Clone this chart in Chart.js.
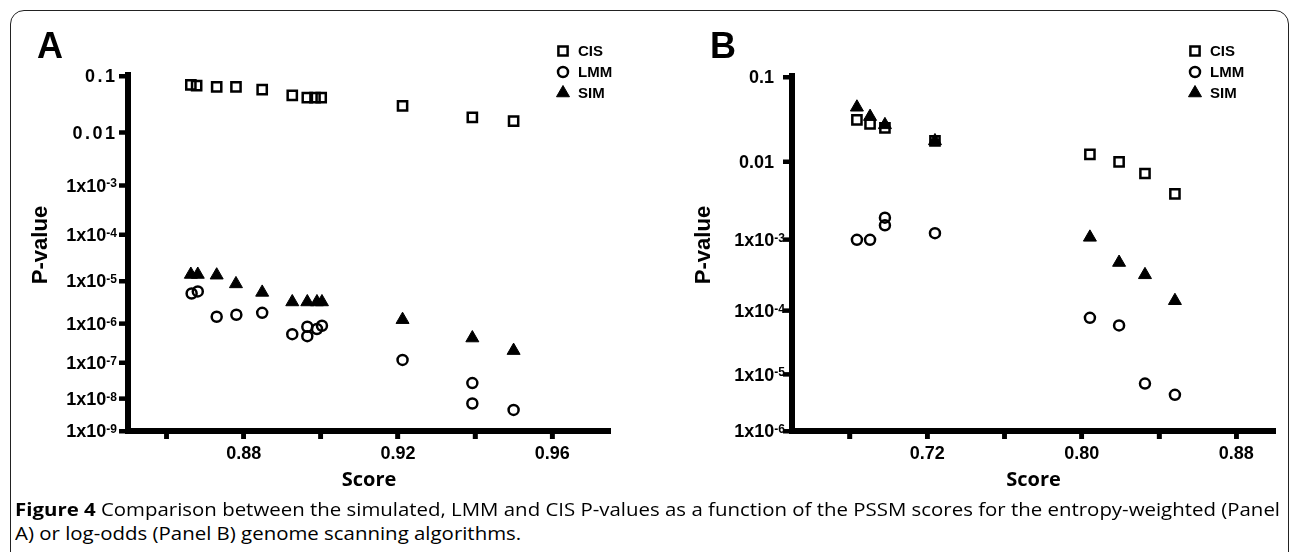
<!DOCTYPE html>
<html>
<head>
<meta charset="utf-8">
<script src="https://cdn.jsdelivr.net/npm/chart.js@4.4.1/dist/chart.umd.min.js"></script>
<style>
  html, body { margin: 0; padding: 0; background: #fff; }
  body { width: 1290px; height: 552px; position: relative; overflow: hidden; }
  .frame { position: absolute; left: 10px; top: 10px; width: 1277px; height: 600px;
           border: 1px solid #222; border-radius: 14px; }
  canvas { position: absolute; top: 0; }
  #chartA { left: 0; }
  #chartB { left: 650px; }
  .cap { position: absolute; left: 15px; font-family: "Open Sans", sans-serif; font-size: 18px;
         line-height: 18px; white-space: nowrap; color: #000; transform-origin: 0 0; }
</style>
</head>
<body>
<div class="frame"></div>
<canvas id="chartA" width="640" height="500"></canvas>
<canvas id="chartB" width="640" height="500"></canvas>
<div class="cap" id="cap1" style="top:500px"><b>Figure 4</b> Comparison between the simulated, LMM and CIS P-values as a function of the PSSM scores for the entropy-weighted (Panel</div>
<div class="cap" id="cap2" style="top:524px">A) or log-odds (Panel B) genome scanning algorithms.</div>
<script>
// ---- data, panel A (entropy-weighted) ----
const scoreA_cis = [0.8663, 0.8678, 0.873, 0.878, 0.8848, 0.8926, 0.8965, 0.8985, 0.9001, 0.9212, 0.9393, 0.950];
const pA_cis     = [0.070, 0.068, 0.065, 0.065, 0.058, 0.046, 0.042, 0.042, 0.042, 0.030, 0.0187, 0.016];
const scoreA_lmm = [0.8665, 0.8681, 0.873, 0.8781, 0.8848, 0.8926, 0.8965, 0.8965, 0.899, 0.9003, 0.9212, 0.9393, 0.9393, 0.950];
const pA_lmm     = [5.2e-6, 5.8e-6, 1.47e-6, 1.64e-6, 1.83e-6, 5.5e-7, 4.9e-7, 8.4e-7, 7.4e-7, 8.9e-7, 1.2e-7, 2.8e-8, 7.2e-9, 4.6e-9];
const scoreA_sim = [0.8663, 0.8681, 0.873, 0.878, 0.8848, 0.8926, 0.8965, 0.899, 0.9003, 0.9212, 0.9393, 0.950];
const pA_sim     = [1.4e-5, 1.4e-5, 1.35e-5, 8.6e-6, 5.5e-6, 3.3e-6, 3.3e-6, 3.3e-6, 3.3e-6, 1.25e-6, 4.4e-7, 2.1e-7];

// ---- data, panel B (log-odds) ----
const scoreB_cis = [0.6836, 0.6904, 0.6981, 0.724, 0.8042, 0.8193, 0.8327, 0.8482];
const pB_cis     = [0.032, 0.0288, 0.0258, 0.018, 0.0124, 0.010, 0.0072, 0.0040];
const scoreB_lmm = [0.6836, 0.6904, 0.6981, 0.6981, 0.724, 0.8042, 0.8193, 0.8327, 0.8482];
const pB_lmm     = [1.0e-3, 1.0e-3, 1.97e-3, 1.56e-3, 1.23e-3, 7.8e-5, 6.0e-5, 7.0e-6, 4.5e-6];
const scoreB_sim = [0.6836, 0.6904, 0.6981, 0.724, 0.8042, 0.8193, 0.8327, 0.8482];
const pB_sim     = [0.045, 0.035, 0.028, 0.018, 1.08e-3, 4.9e-4, 3.3e-4, 1.4e-4];

const seriesNames = ['CIS', 'LMM', 'SIM'];

// ---- axes ----
const xTicksA = [0.86, 0.88, 0.90, 0.92, 0.94, 0.96];
const xLabelsA = [0.88, 0.92, 0.96];
const yTicksA = [0.1, 0.01, 1e-3, 1e-4, 1e-5, 1e-6, 1e-7, 1e-8, 1e-9];
const yLabelsA = ['0.1', '0.01', '1x10^-3', '1x10^-4', '1x10^-5', '1x10^-6', '1x10^-7', '1x10^-8', '1x10^-9'];

const xTicksB = [0.68, 0.72, 0.76, 0.80, 0.84, 0.88];
const xLabelsB = [0.72, 0.80, 0.88];
const yTicksB = [0.1, 0.01, 1e-3, 1e-4, 1e-5, 1e-6];
const yLabelsB = ['0.1', '0.01', '1x10^-3', '1x10^-4', '1x10^-5', '1x10^-6'];

const ARIAL = '"Liberation Sans", Arial, sans-serif';

// log axis whose decades get a bit tighter towards the bottom, like the figure
// (quadratic warp of the log fraction: f = (1-c)t + c t^2)
const LogBase = Chart.LogarithmicScale || Chart.registry.getScale('logarithmic');
class WarpedLogScale extends LogBase {
  getPixelForValue(value) {
    const hi = Math.log10(this.max), lo = Math.log10(this.min);
    if (!(value > 0)) value = this.min;
    const c = this.options.warp || 0;
    const t = (hi - Math.log10(value)) / (hi - lo);
    const f = (1 - c) * t + c * t * t;
    return this.top + f * (this.bottom - this.top);
  }
  getValueForPixel(pixel) {
    const hi = Math.log10(this.max), lo = Math.log10(this.min);
    const c = this.options.warp || 0;
    const f = (pixel - this.top) / (this.bottom - this.top);
    const t = c === 0 ? f : (-(1 - c) + Math.sqrt((1 - c) * (1 - c) + 4 * c * f)) / (2 * c);
    return Math.pow(10, hi - t * (hi - lo));
  }
}
WarpedLogScale.id = 'warpedLog';
WarpedLogScale.defaults = LogBase.defaults;
Chart.register(WarpedLogScale);

function pts(xs, ys) {
  return xs.map((x, i) => ({ x: x, y: ys[i] }));
}

// heavy axis lines + tick stubs, panel letter, y tick labels, y title, legend
function decor(cfg) {
  return {
    id: 'decor',
    beforeDatasetsDraw(chart) {
      const ctx = chart.ctx;
      const ca = chart.chartArea;
      const xs = chart.scales.x, ys = chart.scales.y;
      ctx.save();
      ctx.strokeStyle = '#000';
      ctx.lineWidth = 4.5;
      ctx.beginPath();
      xs.ticks.forEach(t => {
        const px = xs.getPixelForValue(t.value);
        ctx.moveTo(px, ca.bottom);
        ctx.lineTo(px, ca.bottom + 8);
      });
      ctx.stroke();
      ctx.lineWidth = 4;
      ctx.beginPath();
      ys.ticks.forEach(t => {
        const py = ys.getPixelForValue(t.value);
        ctx.moveTo(ca.left, py);
        ctx.lineTo(ca.left - 9, py);
      });
      ctx.stroke();
      ctx.lineWidth = 6;
      ctx.beginPath();
      ctx.moveTo(ca.left, ca.top - 4);
      ctx.lineTo(ca.left, ca.bottom + 3);
      ctx.moveTo(ca.left - 3, ca.bottom);
      ctx.lineTo(ca.right, ca.bottom);
      ctx.stroke();
      ctx.restore();
    },
    afterDraw(chart) {
      const ctx = chart.ctx;
      const ys = chart.scales.y;
      const left = chart.chartArea.left;
      ctx.save();
      ctx.fillStyle = '#000';
      ctx.textAlign = 'left';
      ctx.textBaseline = 'alphabetic';

      ctx.font = 'bold 36px ' + ARIAL;
      ctx.fillText(cfg.letter, cfg.letterX, 58);

      ys.ticks.forEach(t => {
        const idx = cfg.yTicks.findIndex(v => Math.abs(Math.log10(v) - Math.log10(t.value)) < 1e-6);
        if (idx < 0) return;
        const lab = cfg.yLabels[idx];
        const py = ys.getPixelForValue(t.value);
        const parts = lab.split('^');
        if (parts.length === 1) {
          ctx.font = 'bold 18px ' + ARIAL;
          ctx.letterSpacing = cfg.plainSpacing + 'px';
          const w = ctx.measureText(lab).width;
          ctx.fillText(lab, left - cfg.plainGap - w + cfg.plainSpacing, py + 6.4);
          ctx.letterSpacing = '0px';
        } else {
          ctx.font = 'bold 12px ' + ARIAL;
          const ws = ctx.measureText(parts[1]).width;
          ctx.font = 'bold 18px ' + ARIAL;
          const wb = ctx.measureText(parts[0]).width;
          const right = left - cfg.supGap;
          ctx.fillText(parts[0], right - ws - wb, py + 6.4);
          ctx.font = 'bold 12px ' + ARIAL;
          ctx.fillText(parts[1], right - ws, py + 2);
        }
      });

      ctx.save();
      ctx.translate(cfg.yTitleX, cfg.yTitleY);
      ctx.rotate(-Math.PI / 2);
      ctx.font = 'bold 22px ' + ARIAL;
      ctx.textAlign = 'center';
      ctx.textBaseline = 'middle';
      ctx.fillText('P-value', 0, 0);
      ctx.restore();

      chart.data.datasets.forEach((ds, i) => {
        const y = cfg.legendY + i * 21;
        ctx.strokeStyle = ds.borderColor;
        ctx.fillStyle = ds.backgroundColor;
        ctx.lineWidth = ds.borderWidth;
        Chart.helpers.drawPoint(ctx, {
          pointStyle: ds.pointStyle, radius: ds.pointRadius,
          borderWidth: ds.borderWidth, rotation: 0
        }, cfg.legendX, y);
        ctx.fillStyle = '#000';
        ctx.font = 'bold 15px ' + ARIAL;
        ctx.textAlign = 'left';
        ctx.textBaseline = 'middle';
        ctx.fillText(ds.label, cfg.legendX + 15, y + 1);
      });
      ctx.restore();
    }
  };
}

function makePanel(id, cfg) {
  return new Chart(document.getElementById(id), {
    type: 'scatter',
    data: {
      datasets: [
        { label: seriesNames[0], data: pts(cfg.cisX, cfg.cisP), pointStyle: 'rect', pointRadius: 6.5,
          borderColor: '#000', borderWidth: 2.5, backgroundColor: 'rgba(0,0,0,0)' },
        { label: seriesNames[1], data: pts(cfg.lmmX, cfg.lmmP), pointStyle: 'circle', pointRadius: 5,
          borderColor: '#000', borderWidth: 2.5, backgroundColor: 'rgba(0,0,0,0)' },
        { label: seriesNames[2], data: pts(cfg.simX, cfg.simP), pointStyle: 'triangle', pointRadius: 7.5,
          borderColor: '#000', borderWidth: 1, backgroundColor: '#000' }
      ]
    },
    options: {
      responsive: false,
      animation: false,
      events: [],
      layout: { padding: { top: cfg.top, left: 10, right: cfg.right, bottom: 0 } },
      plugins: { legend: { display: false }, tooltip: { enabled: false } },
      scales: {
        x: {
          type: 'linear',
          min: cfg.xMin, max: cfg.xMax,
          afterBuildTicks: s => { s.ticks = cfg.xTicks.map(v => ({ value: v })); },
          afterFit: s => { s.height = 69; },
          border: { display: true, color: '#000', width: 6 },
          grid: { drawOnChartArea: false, drawTicks: true, tickLength: 8, tickWidth: 4.5, tickColor: '#000' },
          ticks: {
            color: '#000', padding: 4,
            font: { family: ARIAL, size: 18, weight: 'bold' },
            maxRotation: 0, autoSkip: false,
            callback: v => {
              const l = cfg.xLabels.find(a => Math.abs(a - v) < 1e-9);
              return l === undefined ? '' : l.toFixed(2);
            }
          },
          title: {
            display: true, text: 'Score', color: '#000',
            font: { family: '"Open Sans", sans-serif', size: 20, weight: 'bold' },
            padding: { top: 0, bottom: 8 }
          }
        },
        y: {
          type: 'warpedLog',
          warp: cfg.warp,
          min: cfg.yTicks[cfg.yTicks.length - 1], max: cfg.yTicks[0],
          afterBuildTicks: s => { s.ticks = cfg.yTicks.map(v => ({ value: v })); },
          afterFit: s => { s.width = cfg.yWidth; },
          border: { display: true, color: '#000', width: 6 },
          grid: { drawOnChartArea: false, drawTicks: true, tickLength: 9, tickWidth: 4, tickColor: '#000' },
          ticks: { display: false }
        }
      }
    },
    plugins: [decor(cfg)]
  });
}

makePanel('chartA', {
  cisX: scoreA_cis, cisP: pA_cis, lmmX: scoreA_lmm, lmmP: pA_lmm, simX: scoreA_sim, simP: pA_sim,
  xMin: 0.85, xMax: 0.975, xTicks: xTicksA, xLabels: xLabelsA,
  yTicks: yTicksA, yLabels: yLabelsA, warp: -0.31,
  top: 76, right: 30, yWidth: 118,
  letter: 'A', letterX: 37,
  plainGap: 13, plainSpacing: 2.5, supGap: 11,
  yTitleX: 41, yTitleY: 245,
  legendX: 563, legendY: 51
});

makePanel('chartB', {
  cisX: scoreB_cis, cisP: pB_cis, lmmX: scoreB_lmm, lmmP: pB_lmm, simX: scoreB_sim, simP: pB_sim,
  xMin: 0.65, xMax: 0.90, xTicks: xTicksB, xLabels: xLabelsB,
  yTicks: yTicksB, yLabels: yLabelsB, warp: -0.25,
  top: 77, right: 15, yWidth: 132,
  letter: 'B', letterX: 60,
  plainGap: 18, plainSpacing: 0, supGap: 7,
  yTitleX: 54, yTitleY: 245,
  legendX: 545, legendY: 51
});

// caption: scale the text so the first line spans the frame like in the figure
const cap1 = document.getElementById('cap1');
const cap2 = document.getElementById('cap2');
const k = 1265 / cap1.getBoundingClientRect().width;
cap1.style.transform = 'scaleX(' + k + ')';
cap2.style.transform = 'scaleX(' + k + ')';
</script>
</body>
</html>
